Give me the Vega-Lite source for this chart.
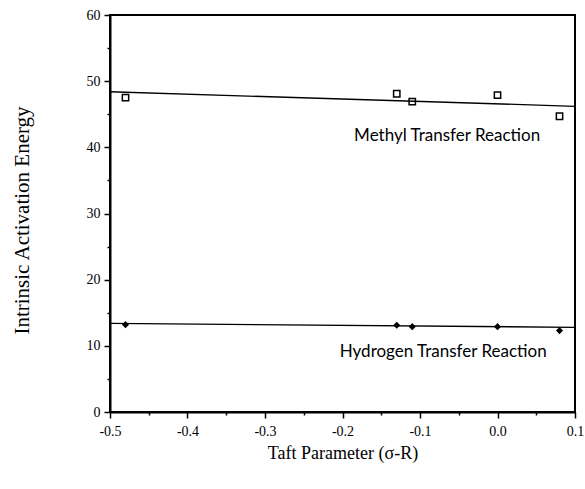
{
  "$schema": "https://vega.github.io/schema/vega-lite/v6.json",
  "autosize": "none",
  "width": 465,
  "height": 397,
  "padding": {"left": 110, "top": 15, "right": 10, "bottom": 77},
  "background": "white",
  "config": {
    "view": {"stroke": "black", "strokeWidth": 2},
    "font": "Liberation Serif",
    "axis": {"grid": false, "labelFlush": false, "domainColor": "black", "domainWidth": 2, "tickColor": "black", "tickWidth": 1.5, "labelColor": "black", "titleColor": "black", "labelFont": "Liberation Serif", "titleFont": "Liberation Serif", "labelFontSize": 14, "titleFontSize": 18, "titleFontWeight": "normal"}
  },
  "datasets": {
    "points": [
      {"sigma": -0.48, "energy": 47.5, "reaction": "Methyl"},
      {"sigma": -0.13, "energy": 48.1, "reaction": "Methyl"},
      {"sigma": -0.11, "energy": 46.9, "reaction": "Methyl"},
      {"sigma": 0.0, "energy": 47.9, "reaction": "Methyl"},
      {"sigma": 0.08, "energy": 44.7, "reaction": "Methyl"},
      {"sigma": -0.48, "energy": 13.2, "reaction": "Hydrogen"},
      {"sigma": -0.13, "energy": 13.1, "reaction": "Hydrogen"},
      {"sigma": -0.11, "energy": 12.9, "reaction": "Hydrogen"},
      {"sigma": 0.0, "energy": 12.9, "reaction": "Hydrogen"},
      {"sigma": 0.08, "energy": 12.3, "reaction": "Hydrogen"}
    ],
    "fits": [
      {"sigma": -0.5, "energy": 48.4, "reaction": "Methyl"},
      {"sigma": 0.1, "energy": 46.2, "reaction": "Methyl"},
      {"sigma": -0.5, "energy": 13.4, "reaction": "Hydrogen"},
      {"sigma": 0.1, "energy": 12.8, "reaction": "Hydrogen"}
    ],
    "labels": [
      {"sigma": -0.065, "energy": 41.7, "text": "Methyl Transfer Reaction"},
      {"sigma": -0.07, "energy": 9.1, "text": "Hydrogen Transfer Reaction"}
    ]
  },
  "encoding": {
    "x": {
      "field": "sigma", "type": "quantitative",
      "scale": {"domain": [-0.5, 0.1], "nice": false, "zero": false, "padding": 0},
      "axis": {
        "title": "Taft Parameter (σ-R)",
        "values": [-0.5, -0.45, -0.4, -0.35, -0.3, -0.25, -0.2, -0.15, -0.1, -0.05, 0.0, 0.05, 0.1],
        "labelExpr": "abs(datum.value*10 - round(datum.value*10)) > 0.01 ? '' : replace(format(datum.value, '.1f'), '\u2212', '-')",
        "tickSize": {"condition": {"test": "abs(datum.value*10 - round(datum.value*10)) > 0.01", "value": 3}, "value": 6},
        "labelPadding": 6,
        "titleY": 32,
        "titleBaseline": "top"
      }
    },
    "y": {
      "field": "energy", "type": "quantitative",
      "scale": {"domain": [0, 60], "nice": false, "padding": 0},
      "axis": {
        "title": "Intrinsic Activation Energy",
        "titleFontSize": 21,
        "values": [0, 5, 10, 15, 20, 25, 30, 35, 40, 45, 50, 55, 60],
        "labelExpr": "datum.value % 10 != 0 ? '' : datum.label",
        "tickSize": {"condition": {"test": "datum.value % 10 != 0", "value": 3}, "value": 6},
        "labelPadding": 4,
        "titleX": -88,
        "titleY": 205,
        "titleAlign": "center",
        "titleBaseline": "middle",
        "titleAngle": -90
      }
    }
  },
  "layer": [
    {
      "data": {"name": "fits"},
      "mark": {"type": "line", "color": "black", "strokeWidth": 1.3},
      "encoding": {"detail": {"field": "reaction"}}
    },
    {
      "data": {"name": "points"},
      "transform": [{"filter": "datum.reaction == 'Methyl'"}],
      "mark": {"type": "point", "shape": "square", "filled": false, "color": "black", "strokeWidth": 1.5, "size": 40, "opacity": 1}
    },
    {
      "data": {"name": "points"},
      "transform": [{"filter": "datum.reaction == 'Hydrogen'"}],
      "mark": {"type": "point", "shape": "diamond", "filled": true, "color": "black", "size": 50, "opacity": 1}
    },
    {
      "data": {"name": "labels"},
      "mark": {"type": "text", "font": "Lato", "fontSize": 17, "color": "black", "align": "center", "baseline": "middle"},
      "encoding": {"text": {"field": "text"}}
    }
  ]
}
